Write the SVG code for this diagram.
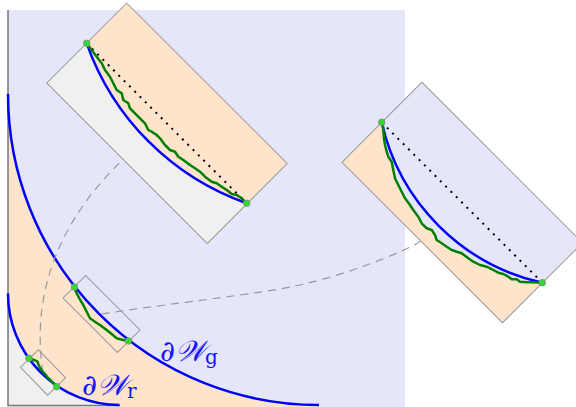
<svg xmlns="http://www.w3.org/2000/svg" width="576" height="407" viewBox="0 0 576 407">
<style>
.lav{fill:#e6e6fa}
.peach{fill:#ffe4cc}
.grey{fill:#f0f0f0}
.axis{stroke:#777;stroke-width:1.5;fill:none}
.arc{stroke:#0000ff;stroke-width:2.5;fill:none}
.walk{stroke:#008000;stroke-width:2.5;fill:none;stroke-linejoin:round}
.box{fill:none;stroke:#999;stroke-width:1}
.dash{fill:none;stroke:#999;stroke-width:1.2;stroke-dasharray:8 6}
.dots{stroke:#000;stroke-width:2;stroke-dasharray:2 5.5;fill:none}
.pt{fill:#2edb2e;stroke:#888;stroke-width:0.8}
.lbl{font-family:"DejaVu Serif","DejaVu Sans",serif;font-style:italic;font-size:29px;fill:#1414ff}
.sub{font-family:"DejaVu Serif",serif;font-style:normal;font-size:20px}
</style>
<g id="background">
<rect class="lav" x="8" y="10" width="397" height="397"/>
<path class="peach" d="M8,94 A311,311 0 0 0 319,405 L319,407 L8,407 Z"/>
<path class="grey" d="M8,293.5 A111.5,111.5 0 0 0 119.5,405 L119.5,407 L8,407 Z"/>
<path class="axis" d="M8,10 V405.5 H120"/>
</g>
<g id="arc-g">
<path class="arc" d="M8,94 A311,311 0 0 0 319,405"/>
</g>
<g id="arc-r">
<path class="arc" d="M8,293.5 A111.5,111.5 0 0 0 119.5,405"/>
</g>
<g id="connectors">
<path class="dash" d="M43,372.5 C30,290 60,200 167,123.3"/>
<path class="dash" d="M101.5,314 C180,302 260,294 300,285 S390,258 418,243 L462,202.5"/>
</g>
<g id="box-small-r">
<rect class="box" x="-19.5" y="-12.5" width="39" height="25" transform="translate(43,372.5) rotate(46)"/>
<polyline class="walk" points="29,358.3 34,360 37.3,361.3 39,365.7 40.7,369 43.3,372.3 45.7,374.7 47.3,377.3 50.7,380.3 52.3,382.3 55.7,385.7 56.7,386.7"/>
<circle class="pt" cx="29" cy="358.3" r="3.3"/>
<circle class="pt" cx="56.7" cy="386.7" r="3.3"/>
</g>
<g id="box-small-g">
<rect class="box" x="-38.5" y="-16" width="77" height="32" transform="translate(101.5,314) rotate(45)"/>
<polyline class="walk" points="74.3,288.3 76.7,293.3 79.3,298.3 83.3,305 88.3,315 90,318.3 95,321.7 100,325 106.7,330 111.7,334 116.7,338.3 123.3,340 128.3,341"/>
<circle class="pt" cx="74.5" cy="287" r="3.3"/>
<circle class="pt" cx="128.5" cy="341" r="3.3"/>
</g>
<g id="zoom-r">
<rect class="grey" x="-113.5" y="-56.5" width="227" height="113" transform="translate(167,123.3) rotate(45)"/>
<path class="peach" d="M86.7,43.3 L126.7,3.3 L287.3,164 L246.7,203.3 A262,262 0 0 1 86.7,43.3 Z"/>
<rect class="box" x="-113.5" y="-56.5" width="227" height="113" transform="translate(167,123.3) rotate(45)"/>
<path class="arc" d="M86.7,43.3 A262,262 0 0 0 246.7,203.3"/>
<path class="dots" d="M86.7,43.3 L246.7,203.3"/>
<polyline class="walk" points="86.7,43.3 91.7,50 96.7,56.7 101.7,63.3 105,70 110,76.7 113.3,83.3 116.7,90 121.7,93.3 123.3,100 128.3,103.3 130,108.3 135,113.3 140,118.3 145,123.3 148.3,130 151.7,131.7 156.7,135 160,138.3 165,145 170,150 175,151.7 178.3,156.7 183.3,160 190,165 195,168.3 200,171.7 205,176.7 211.7,181.7 216.7,183.3 221.7,186.7 226.7,190 231.7,194 236.7,195 241.7,198.3 246.7,203.3"/>
<circle class="pt" cx="86.7" cy="43.3" r="3.3"/>
<circle class="pt" cx="246.7" cy="203.3" r="3.3"/>
</g>
<g id="zoom-g">
<rect class="peach" x="-113.5" y="-56.5" width="227" height="113" transform="translate(462.2,202.5) rotate(45)"/>
<path class="lav" d="M381.7,122.3 L422,82.7 L583,242.7 L542.3,282.7 L533.3,282.3 526.7,282.3 520,281.7 516.7,279.3 511.7,279.3 508.3,276.7 503.3,274 498.3,272.7 493.3,270 486.7,266.7 480,265 473.3,261.7 468.3,258.3 461.7,253.3 456.7,251.7 451.7,250 446.7,246.7 441.7,243.3 436.7,240 435,235 431.7,230 426.7,228.3 421.7,223.3 418.3,216.7 413.3,210 410,205 405,198.3 401.7,191.7 398.3,185 395,178.3 393.3,170 391.7,161.7 388.3,156.7 386.7,151.7 385,145 384,138.3 383.3,130 382.7,123.3 Z"/>
<rect class="box" x="-113.5" y="-56.5" width="227" height="113" transform="translate(462.2,202.5) rotate(45)"/>
<path class="arc" d="M381.7,122.3 A212,212 0 0 0 542.3,282.7"/>
<path class="dots" d="M381.7,122.3 L542.3,282.7"/>
<polyline class="walk" points="382.7,123.3 383.3,130 384,138.3 385,145 386.7,151.7 388.3,156.7 391.7,161.7 393.3,170 395,178.3 398.3,185 401.7,191.7 405,198.3 410,205 413.3,210 418.3,216.7 421.7,223.3 426.7,228.3 431.7,230 435,235 436.7,240 441.7,243.3 446.7,246.7 451.7,250 456.7,251.7 461.7,253.3 468.3,258.3 473.3,261.7 480,265 486.7,266.7 493.3,270 498.3,272.7 503.3,274 508.3,276.7 511.7,279.3 516.7,279.3 520,281.7 526.7,282.3 533.3,282.3 541.7,282.7"/>
<circle class="pt" cx="381.7" cy="122.3" r="3.3"/>
<circle class="pt" cx="542.3" cy="282.7" r="3.3"/>
</g>
<g id="label-g">
<text class="lbl" x="160" y="361">∂𝒲<tspan class="sub" dy="3">g</tspan></text>
</g>
<g id="label-r">
<text class="lbl" x="82" y="395">∂𝒲<tspan class="sub" dy="3">r</tspan></text>
</g>
</svg>
